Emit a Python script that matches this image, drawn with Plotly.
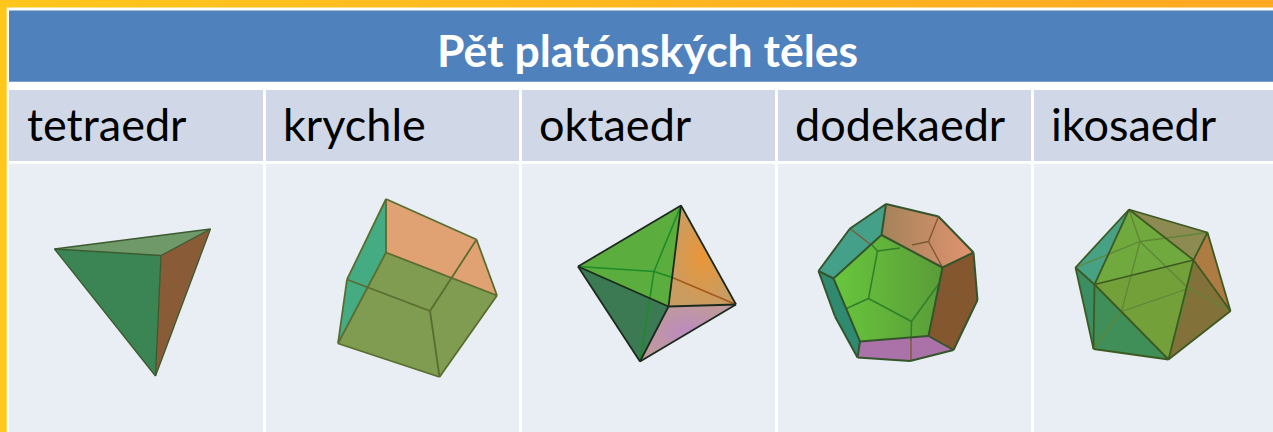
import plotly.graph_objects as go

TITLE = "Pět platónských těles"
SOLID_NAMES = ["tetraedr", "krychle", "oktaedr", "dodekaedr", "ikosaedr"]
NAME_X = [25, 281, 537, 793, 1049]
COL_LEFT = [9, 266, 522, 778, 1034]
COL_RIGHT = [263, 519, 775, 1031, 1273]

# vertices, in image pixels
TETRA = {"a": (54.5, 249), "b": (210.5, 229), "c": (161, 255.5), "d": (155.5, 376)}
TETRA_FACES = [("abc", "#70996a"), ("acd", "#3b8453"), ("bcd", "#8a5b37")]
TETRA_EDGES = ["ab", "bc", "ca", "ad", "cd", "bd"]
TETRA_EDGE_COLOR = "#3c5a30"

CUBE = {"a": (386, 199), "b": (476.5, 239.5), "c": (497, 295.5), "d": (439.5, 377),
        "e": (338, 343.5), "f": (347, 279.5), "g": (386, 252.5), "k": (430, 311)}
CUBE_FACES = [("abcg", "#e0a173"), ("agef", "#45ab83"), ("gcde", "#7f9c50")]
CUBE_EDGES = ["ab", "bc", "cd", "de", "ef", "fa", "ag", "gc", "ge", "fk", "kd", "kb"]
CUBE_EDGE_COLOR = "#5a6d30"

OCTA = {"t": (681, 205.5), "l": (578, 266.5), "r": (736, 304.5), "b": (640, 361.5),
        "c": (668.5, 306.5), "h": (654, 271.5), "m": (671, 277)}
OCTA_FACES = [("tlc", "#5bad3d", None), ("tcr", "#c99c62", "#ea9638"),
              ("crb", "#bf9a9c", "#bd8ac0"), ("lcb", "#3b7a52", None)]
OCTA_HIDDEN_GREEN = ["th", "lh", "hm", "hb"]
OCTA_HIDDEN_BROWN = ["mr"]
OCTA_EDGES = ["tl", "tr", "rb", "bl", "tc", "lc", "cr", "cb"]

DODECA = {"a": (886, 204), "b": (938.5, 216.5), "c": (973.5, 252.5), "d": (977.5, 300),
          "e": (953.5, 350), "f": (910, 361), "g": (857.5, 357.5), "h": (835, 316.5),
          "i": (818.5, 271), "j": (850, 228.5),
          "p": (881.5, 235), "q": (942.5, 267.5), "r": (928.5, 336), "s": (860, 341.5),
          "u": (833.5, 278.5)}
DODECA_FLAT = [("ajiup", "#45a08a"), ("cderq", "#84572f"), ("srefg", "#aa72a8"), ("iusgh", "#2f8a70")]
DODECA_TOP = ("abcqp", ["#a3835a", "#e29470"])
DODECA_FRONT = ("pqrsu", ["#68c63c", "#5a9c38"])
DODECA_OUTLINE = ["ab", "bc", "cd", "de", "ef", "fg", "gh", "hi", "ij", "ja",
                  "pq", "qr", "rs", "su", "up", "ap", "iu", "gs", "er", "cq"]
DODECA_HIDDEN = {"v": (877.5, 251), "w": (868.5, 298.5), "x": (911.5, 321.5),
                 "y": (941.5, 280), "z": (900, 248), "n": (872, 245),
                 "o": (846.5, 308.5), "A": (911, 341)}
DODECA_HIDDEN_EDGES = ["nv", "vz", "vw", "wo", "wx", "xy", "xA"]
DODECA_HIDDEN_WARM = {"B": (928.5, 241.5), "C": (912, 245), "D": (940, 290),
                      "E": (976, 301), "F": (930, 333), "G": (944, 270), "H": (911, 361), "I": (911, 340),
                      "J": (850, 228.5), "K": (871, 245)}
DODECA_WARM_EDGES = ["bB", "BC", "Bq", "GD", "DE", "DF", "IH", "JK"]

ICOSA = {"a": (1129, 209.5), "b": (1207.5, 232.5), "c": (1230.5, 311), "d": (1168.5, 359.5),
         "e": (1093.5, 349), "f": (1075.5, 267.5), "g": (1193.5, 260), "h": (1094.5, 284.5),
         "i": (1140, 241.5), "j": (1121.5, 311.5), "k": (1188.5, 288.5)}
ICOSA_FACES = [("agh", "#70a93d"), ("ghd", "#74a03a"), ("abg", "#8d8a52"), ("bcg", "#ae7b42"),
               ("cgd", "#83713a"), ("ahf", "#47a184"), ("fhe", "#3a8e62"), ("hed", "#408f58")]
ICOSA_EDGES = ["ab", "bc", "cd", "de", "ef", "fa", "ag", "gh", "ha", "gd", "hd", "he", "hf", "gb", "gc"]
ICOSA_HIDDEN = ["ai", "bi", "fi", "ik", "ij", "jk", "jh", "je", "jd", "kg", "kc", "kd"]

CELL_HEADER = "#4f81bd"
CELL_NAME = "#d0d8e8"
CELL_BODY = "#e9edf4"

fig = go.Figure()


def rect(x0, y0, x1, y1, color):
    fig.add_shape(type="rect", x0=x0, x1=x1, y0=y0, y1=y1, fillcolor=color,
                  line_width=0, layer="below")


def face(verts, names, color, centre=None, sweep=None):
    xs = [verts[n][0] for n in names] + [verts[names[0]][0]]
    ys = [verts[n][1] for n in names] + [verts[names[0]][1]]
    kw = dict(fillcolor=color)
    if centre:
        kw = dict(fillgradient=dict(type="radial", colorscale=[[0, centre], [1, color]]))
    if sweep:
        kw = dict(fillgradient=dict(type="horizontal", colorscale=[[0, sweep[0]], [1, sweep[1]]]))
    fig.add_trace(go.Scatter(x=xs, y=ys, mode="lines", fill="toself", line_width=0,
                             hoverinfo="skip", showlegend=False, **kw))


def edges(verts, pairs, color, width=1.6):
    xs, ys = [], []
    for p in pairs:
        xs += [verts[p[0]][0], verts[p[1]][0], None]
        ys += [verts[p[0]][1], verts[p[1]][1], None]
    fig.add_trace(go.Scatter(x=xs, y=ys, mode="lines", line=dict(color=color, width=width),
                             hoverinfo="skip", showlegend=False))


# frame
fig.add_trace(go.Scatter(x=[0, 1273, 1273, 0, 0], y=[0, 0, 7.5, 7.5, 0], mode="lines", fill="toself",
                         line_width=0, hoverinfo="skip", showlegend=False,
                         fillgradient=dict(type="horizontal",
                                           colorscale=[[0, "#ffc61c"], [1, "#ffa822"]])))
rect(0, 0, 6.7, 432, "#ffc61c")
rect(9, 10.5, 1273, 81.7, CELL_HEADER)
for x0, x1 in zip(COL_LEFT, COL_RIGHT):
    rect(x0, 90, x1, 161, CELL_NAME)
    rect(x0, 163.7, x1, 432, CELL_BODY)

# tetrahedron
for n, c in TETRA_FACES:
    face(TETRA, n, c)
edges(TETRA, TETRA_EDGES, TETRA_EDGE_COLOR, 1.3)

# cube
for n, c in CUBE_FACES:
    face(CUBE, n, c)
edges(CUBE, CUBE_EDGES, CUBE_EDGE_COLOR, 1.8)

# octahedron
for n, c, g in OCTA_FACES:
    face(OCTA, n, c, g)
edges(OCTA, OCTA_HIDDEN_GREEN, "#1f8a2a", 1.6)
edges(OCTA, OCTA_HIDDEN_BROWN, "#a2591c", 1.6)
edges(OCTA, OCTA_EDGES, "#1c2a1e", 1.8)

# dodecahedron
for n, c in DODECA_FLAT:
    face(DODECA, n, c)
face(DODECA, DODECA_TOP[0], DODECA_TOP[1][0], sweep=DODECA_TOP[1])
face(DODECA, DODECA_FRONT[0], DODECA_FRONT[1][0], sweep=DODECA_FRONT[1])
hid = {**DODECA, **DODECA_HIDDEN}
edges(hid, DODECA_HIDDEN_EDGES, "#2f7f2a", 1.5)
warm = {**DODECA, **DODECA_HIDDEN_WARM}
edges(warm, DODECA_WARM_EDGES, "#7d5a36", 1.4)
edges(DODECA, DODECA_OUTLINE, "#34552c", 2.0)

# icosahedron
for n, c in ICOSA_FACES:
    face(ICOSA, n, c)
edges(ICOSA, ICOSA_HIDDEN, "#5f8638", 1.3)
edges(ICOSA, ICOSA_EDGES, "#3d5a22", 1.8)

# texts
fig.add_annotation(x=647, y=49, text=TITLE, showarrow=False, xanchor="center", yanchor="middle",
                   font=dict(family="Lato", size=44.5, color="#ffffff", weight="bold"))
for t, x in zip(SOLID_NAMES, NAME_X):
    fig.add_annotation(x=x, y=124, text=t, showarrow=False, xanchor="left", yanchor="middle",
                       font=dict(family="Lato", size=45, color="#000000"))

fig.update_xaxes(range=[0, 1273], visible=False, fixedrange=True)
fig.update_yaxes(range=[432, 0], visible=False, fixedrange=True)
fig.update_layout(width=1273, height=432, margin=dict(l=0, r=0, t=0, b=0),
                  paper_bgcolor="#ffffff", plot_bgcolor="#ffffff", showlegend=False)
fig.write_html("out.html", config=dict(displayModeBar=False),
               post_script="document.body.style.margin='0';document.body.style.overflow='hidden';")
